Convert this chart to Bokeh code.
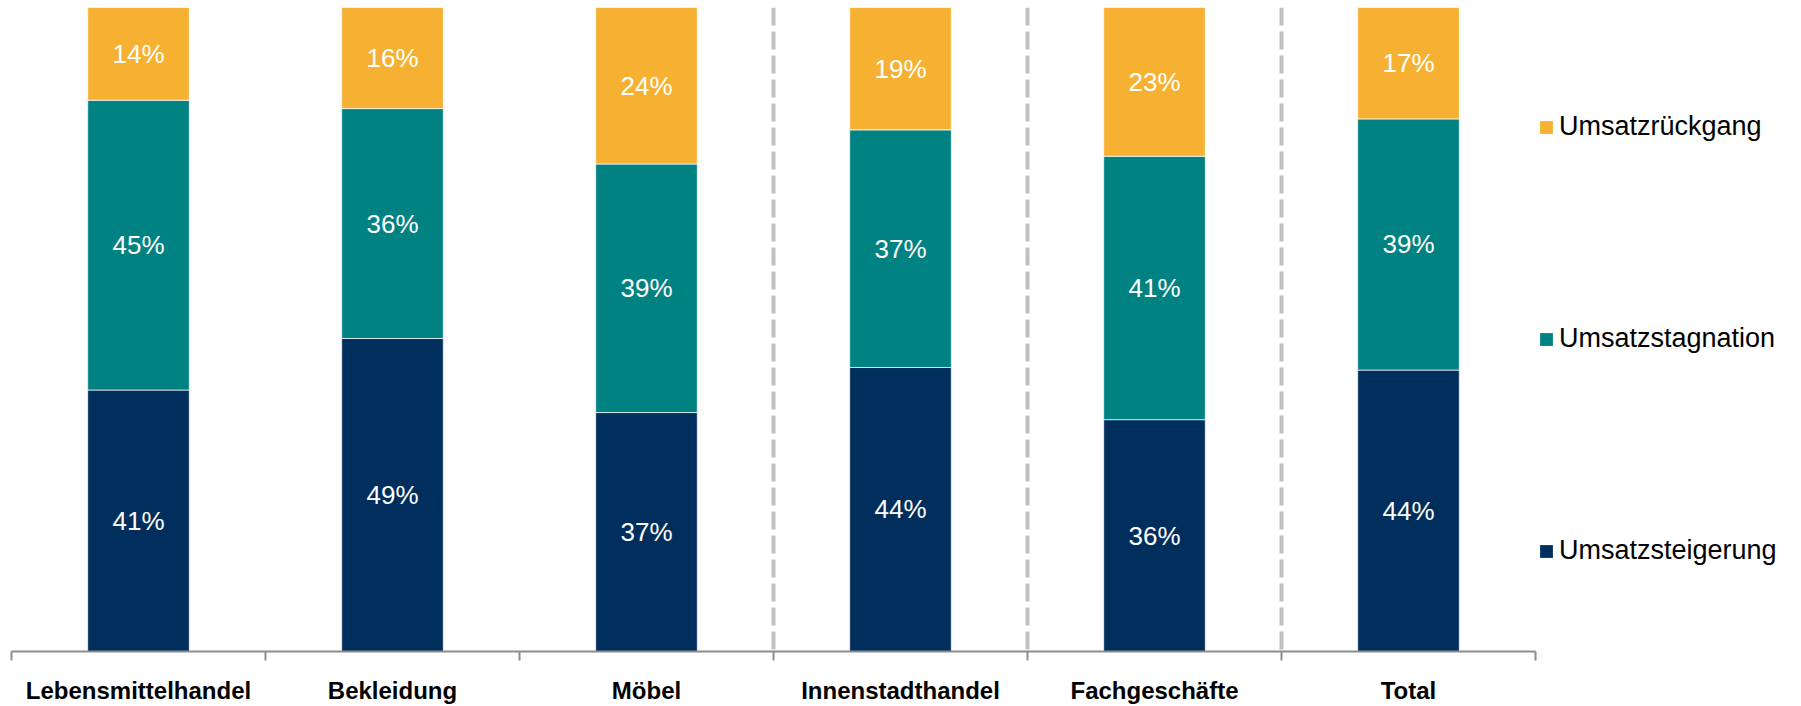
from bokeh.plotting import figure
from bokeh.layouts import row
from bokeh.models import (Range1d, FixedTicker, Legend, LegendItem, ColumnDataSource)
from bokeh.core.properties import value
from bokeh.embed import file_html
from bokeh.resources import INLINE

categories = ["Lebensmittelhandel", "Bekleidung", "Möbel", "Innenstadthandel", "Fachgeschäfte", "Total"]
steigerung = [40.6, 48.6, 37.1, 44.1, 36.0, 43.7]
stagnation = [45.0, 35.7, 38.6, 36.9, 40.9, 39.0]
rueckgang = [14.4, 15.7, 24.3, 19.0, 23.1, 17.3]
series_names = ["Umsatzsteigerung", "Umsatzstagnation", "Umsatzrückgang"]
separators_after = [2, 3, 4]  # dashed separators after these category indices

colors = ["#002E5D", "#008282", "#F7B132"]
FONT = "Liberation Sans"

n = len(categories)
xs = [i + 0.5 for i in range(n)]

p = figure(width=1537, height=706, output_backend="svg", toolbar_location=None,
           x_range=Range1d(0, n), y_range=Range1d(0, 100),
           min_border_left=11, min_border_right=2, min_border_top=7, min_border_bottom=42)
p.outline_line_color = None
p.xgrid.visible = False
p.ygrid.visible = False
p.yaxis.visible = False
p.background_fill_color = "white"
p.border_fill_color = "white"

# separators
for s in separators_after:
    p.segment(x0=[s + 1], x1=[s + 1], y0=[100], y1=[0], line_color="#C0C0C0",
              line_width=4, line_dash="18 6")

series = [steigerung, stagnation, rueckgang]
bottom = [0.0] * n
for vals, col, name in zip(series, colors, series_names):
    top = [b + v for b, v in zip(bottom, vals)]
    src = ColumnDataSource(dict(x=xs, bottom=bottom, top=top,
                                mid=[(b + t) / 2 for b, t in zip(bottom, top)],
                                lab=[f"{round(v)}%" for v in vals]))
    p.vbar(x="x", bottom="bottom", top="top", width=0.4, source=src,
           fill_color=col, line_color="white", line_width=0.7)
    p.text(x="x", y="mid", text="lab", source=src, text_color="white",
           text_font=value(FONT), text_font_size="26px",
           text_align="center", text_baseline="middle")
    bottom = top

ax = p.xaxis[0]
ax.ticker = FixedTicker(ticks=xs, minor_ticks=list(range(n + 1)))
ax.major_label_overrides = {x: c for x, c in zip(xs, categories)}
ax.major_tick_line_color = None
ax.major_tick_out = 0
ax.major_tick_in = 0
ax.minor_tick_line_color = "#8C8C8C"
ax.minor_tick_line_width = 2
ax.minor_tick_out = 9
ax.minor_tick_in = 0
ax.axis_line_color = "#8C8C8C"
ax.axis_line_width = 2
ax.major_label_text_font = FONT
ax.major_label_text_font_style = "bold"
ax.major_label_text_font_size = "24px"
ax.major_label_text_color = "black"
ax.major_label_standoff = 16

# legend panel
lp = figure(width=264, height=706, output_backend="svg", toolbar_location=None,
            x_range=Range1d(0, 1), y_range=Range1d(0, 1),
            min_border_left=0, min_border_right=0, min_border_top=0, min_border_bottom=0)
lp.axis.visible = False
lp.grid.visible = False
lp.outline_line_color = None
lp.background_fill_color = "white"
lp.border_fill_color = "white"
dummy = {}
for col, name in zip(colors, series_names):
    # off-screen bar, only used to draw the legend swatch
    dummy[name] = lp.vbar(x=[10], bottom=[10], top=[11], width=0.1, fill_color=col, line_color=None)

items = [LegendItem(label=name, renderers=[dummy[name]]) for name in reversed(series_names)]
legend = Legend(items=items, location=(1, 85), orientation="vertical")
legend.glyph_width = 16
legend.glyph_height = 16
legend.label_standoff = 5
legend.label_text_font = FONT
legend.label_text_font_size = "27px"
legend.label_text_color = "black"
legend.spacing = 181
legend.padding = 0
legend.margin = 0
legend.border_line_color = None
legend.background_fill_alpha = 0
lp.add_layout(legend, "center")

layout = row(p, lp, spacing=0)
open("out.html", "w").write(file_html(layout, INLINE))
